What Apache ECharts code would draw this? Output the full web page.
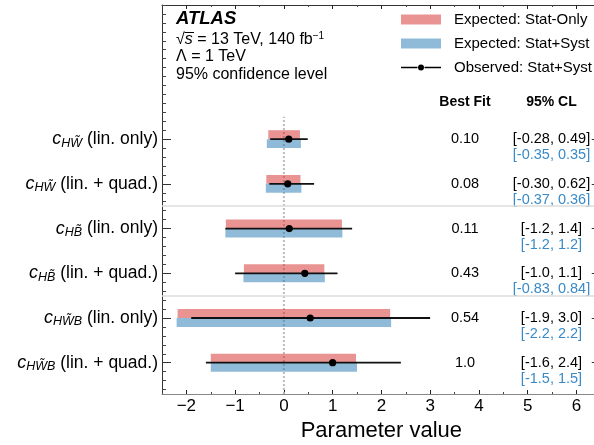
<!DOCTYPE html>
<html>
<head>
<meta charset="utf-8">
<script src="https://cdn.jsdelivr.net/npm/echarts@6/dist/echarts.min.js"></script>
<style>
  html, body { margin: 0; padding: 0; background: #fff; }
  #chart { width: 594px; height: 445px; }
</style>
</head>
<body>
<div id="chart"></div>
<script>
// Wilson coefficients, listed top to bottom
const coefficients = ['HW\u0303', 'HW\u0303', 'HB\u0303', 'HB\u0303', 'HW\u0303B', 'HW\u0303B'];
const fitTypes = ['lin. only', 'lin. + quad.', 'lin. only', 'lin. + quad.', 'lin. only', 'lin. + quad.'];

// Observed best fit and 95% CL (stat+syst)
const bestFit = [0.10, 0.08, 0.11, 0.43, 0.54, 1.0];
const obsLow  = [-0.28, -0.30, -1.2, -1.0, -1.9, -1.6];
const obsHigh = [0.49, 0.62, 1.4, 1.1, 3.0, 2.4];

// Expected 95% CL, stat+syst
const expSystLow  = [-0.35, -0.37, -1.2, -0.83, -2.2, -1.5];
const expSystHigh = [0.35, 0.36, 1.2, 0.84, 2.2, 1.5];

// Expected 95% CL, stat only
const expStatLow  = [-0.32, -0.36, -1.19, -0.82, -2.18, -1.5];
const expStatHigh = [0.33, 0.34, 1.19, 0.83, 2.18, 1.48];

// Decimal places used when printing each row
const bestDigits = [2, 2, 2, 2, 2, 1];
const obsDigits  = [2, 2, 1, 1, 1, 1];
const expDigits  = [2, 2, 1, 2, 1, 1];

// x-axis ticks
const xTickMin = -2, xTickMax = 6;

const FONT = '"Liberation Sans", Arial, Helvetica, sans-serif';
const RED = 'rgba(214,39,40,0.5)';
const BLUE = 'rgba(31,119,180,0.5)';
const BLUE_TEXT = '#3a8ac8';

// Frame geometry (pixels) and axis ranges
const W = 594, H = 445;
const frameLeft = 162, frameTop = 5, frameBottomPx = 394;
const xMin = -2.5, xMax = 6.5, yMin = -0.7, yMax = 8.0;
const pxPerX = 48.75;
const frameRightPx = frameLeft + (xMax - xMin) * pxPerX;
const pxPerY = (frameBottomPx - frameTop) / (yMax - yMin);
const pxX = v => frameLeft + (v - xMin) * pxPerX;
const pxY = v => frameTop + (yMax - v) * pxPerY;

const n = coefficients.length;
const yPos = i => n - 1 - i;   // row i drawn at y = n-1-i

const fmt = (v, d) => (v < 0 ? '-' : '') + Math.abs(v).toFixed(d);

const frameGrid = { left: frameLeft, top: frameTop, right: W - frameRightPx, bottom: H - frameBottomPx, outerBoundsMode: 'none', containLabel: false };
const minorYGrid = { left: frameLeft, top: pxY(yMax), right: W - frameRightPx, bottom: H - pxY(-0.6), outerBoundsMode: 'none', containLabel: false };
const majorYGrid = { left: frameLeft, top: pxY(n - 1), right: W - frameRightPx, bottom: H - pxY(0), outerBoundsMode: 'none', containLabel: false };
const majorXGrid = { left: pxX(xTickMin), top: frameTop, right: W - pxX(xTickMax), bottom: H - frameBottomPx, outerBoundsMode: 'none', containLabel: false };

const hidden = { show: false };
const noLine = { show: false, onZero: false };

const chart = echarts.init(document.getElementById('chart'), null, { renderer: 'canvas' });

const barData = (lo, hi) => lo.map((l, i) => [yPos(i), l, hi[i]]);

function barRenderer(top, bottom) {
  return function (params, api) {
    const y = api.value(0);
    const p0 = api.coord([api.value(1), y + top]);
    const p1 = api.coord([api.value(2), y + bottom]);
    return {
      type: 'rect',
      shape: { x: p0[0], y: p0[1], width: p1[0] - p0[0], height: p1[1] - p0[1] },
      style: { fill: api.visual('color') }
    };
  };
}

const option = {
  backgroundColor: '#fff',
  animation: false,
  textStyle: { fontFamily: FONT },
  grid: [frameGrid, minorYGrid, majorYGrid, majorXGrid],
  xAxis: [
    // frame: bottom and top lines with half-unit ticks
    { gridIndex: 0, type: 'value', min: xMin, max: xMax, interval: 0.5, position: 'bottom',
      axisLine: { show: true, onZero: false, lineStyle: { color: '#888', width: 1 } },
      axisTick: { show: true, inside: true, length: 2, lineStyle: { color: '#444' } },
      axisLabel: hidden, splitLine: hidden },
    { gridIndex: 0, type: 'value', min: xMin, max: xMax, interval: 0.5, position: 'top',
      axisLine: { show: true, onZero: false, lineStyle: { color: '#333', width: 1 } },
      axisTick: { show: true, inside: true, length: 2, lineStyle: { color: '#444' } },
      axisLabel: hidden, splitLine: hidden },
    { gridIndex: 1, type: 'value', min: xMin, max: xMax, show: false },
    { gridIndex: 2, type: 'value', min: xMin, max: xMax, show: false },
    // integer ticks and labels
    { gridIndex: 3, type: 'value', min: xTickMin, max: xTickMax, interval: 1, position: 'bottom',
      axisLine: noLine,
      axisTick: { show: true, inside: true, length: 4, lineStyle: { color: '#222' } },
      axisLabel: { show: true, margin: 4, fontSize: 17, color: '#000', fontFamily: FONT,
        formatter: v => (v < 0 ? '\u2212' + Math.abs(v) : String(v)) },
      splitLine: hidden,
      name: 'Parameter value', nameLocation: 'middle', nameGap: 22,
      nameTextStyle: { fontSize: 22, color: '#000', fontFamily: FONT } },
    { gridIndex: 3, type: 'value', min: xTickMin, max: xTickMax, interval: 1, position: 'top',
      axisLine: noLine,
      axisTick: { show: true, inside: true, length: 4, lineStyle: { color: '#222' } },
      axisLabel: hidden, splitLine: hidden }
  ],
  yAxis: [
    { gridIndex: 0, type: 'value', min: yMin, max: yMax, position: 'left',
      axisLine: { show: true, onZero: false, lineStyle: { color: '#333', width: 1 } },
      axisTick: hidden, axisLabel: hidden, splitLine: hidden },
    { gridIndex: 0, type: 'value', min: yMin, max: yMax, position: 'right',
      axisLine: { show: true, onZero: false, lineStyle: { color: '#333', width: 1 } },
      axisTick: hidden, axisLabel: hidden, splitLine: hidden },
    { gridIndex: 1, type: 'value', min: -0.6, max: yMax, interval: 0.2, position: 'left',
      axisLine: noLine, axisTick: { show: true, inside: true, length: 4, lineStyle: { color: '#444' } },
      axisLabel: hidden, splitLine: hidden },
    { gridIndex: 1, type: 'value', min: -0.6, max: yMax, interval: 0.2, position: 'right',
      axisLine: noLine, axisTick: { show: true, inside: true, length: 4, lineStyle: { color: '#444' } },
      axisLabel: hidden, splitLine: hidden },
    { gridIndex: 2, type: 'value', min: 0, max: n - 1, interval: 1, position: 'left',
      axisLine: noLine, axisTick: { show: true, inside: true, length: 9, lineStyle: { color: '#333' } },
      axisLabel: {
        show: true, margin: 4, color: '#000', fontSize: 17.5, fontFamily: FONT,
        formatter: v => {
          const i = n - 1 - v;
          return '{c|c}{s|' + coefficients[i] + '} (' + fitTypes[i] + ')';
        },
        rich: {
          c: { fontSize: 18, fontStyle: 'italic', fontFamily: FONT, color: '#000' },
          s: { fontSize: 12.5, fontStyle: 'italic', fontFamily: FONT, color: '#000', padding: [8, 0, 0, 0] }
        }
      },
      splitLine: hidden },
    { gridIndex: 2, type: 'value', min: 0, max: n - 1, interval: 1, position: 'right',
      axisLine: noLine, axisTick: { show: true, inside: true, length: 9, lineStyle: { color: '#333' } },
      axisLabel: hidden, splitLine: hidden },
    { gridIndex: 3, type: 'value', min: yMin, max: yMax, show: false }
  ],
  legend: {
    orient: 'vertical', left: 401, top: 12, padding: 0,
    itemWidth: 40, itemHeight: 10, itemGap: 9,
    textStyle: { fontSize: 15, color: '#000', fontFamily: FONT, padding: [0, 0, 0, 8] },
    data: [
      { name: 'Expected: Stat-Only', icon: 'rect' },
      { name: 'Expected: Stat+Syst', icon: 'rect' },
      { name: 'Observed: Stat+Syst',
        icon: 'path://M0,0L0,0.01M40,10L40,9.99M0,4.2H16.5V5.8H0ZM23.5,4.2H40V5.8H23.5ZM17,5A3,3,0,1,1,23,5A3,3,0,1,1,17,5Z' }
    ]
  },
  graphic: [
    { type: 'text', x: 176, y: 19, style: { text: 'ATLAS', font: 'italic bold 18.5px ' + FONT, fill: '#000', verticalAlign: 'middle' } },
    { type: 'text', x: 176, y: 40, style: {
        text: '{r|\u221A}{i|s} = 13 TeV, 140 fb{u|\u22121}', font: '16px ' + FONT, fill: '#000', verticalAlign: 'middle',
        rich: {
          r: { fontSize: 16, fontFamily: FONT },
          i: { fontSize: 16, fontStyle: 'italic', fontFamily: FONT },
          u: { fontSize: 10, fontFamily: FONT, padding: [0, 0, 8, 0] }
        } } },
    // bar of the square root over s
    { type: 'line', shape: { x1: 184.5, y1: 32.5, x2: 194, y2: 32.5 }, style: { stroke: '#000', lineWidth: 1 } },
    { type: 'text', x: 176, y: 57, style: { text: '\u039B = 1 TeV', font: '16px ' + FONT, fill: '#000', verticalAlign: 'middle' } },
    { type: 'text', x: 176, y: 75, style: { text: '95% confidence level', font: '16px ' + FONT, fill: '#000', verticalAlign: 'middle' } },
    { type: 'text', x: 465, y: 102, style: { text: 'Best Fit', font: 'bold 14px ' + FONT, fill: '#000', align: 'center', verticalAlign: 'middle' } },
    { type: 'text', x: 551.5, y: 102, style: { text: '95% CL', font: 'bold 14px ' + FONT, fill: '#000', align: 'center', verticalAlign: 'middle' } }
  ],
  series: [
    // dotted zero line and section separators
    { type: 'line', xAxisIndex: 0, yAxisIndex: 0, silent: true, symbol: 'none', z: 1,
      data: [[0, yMin], [0, 5.5]],
      lineStyle: { color: '#bbb', width: 2, type: [2, 2] },
      markLine: {
        silent: true, symbol: 'none', label: { show: false },
        lineStyle: { color: '#ddd', width: 1.5, type: 'solid' },
        data: [{ yAxis: 3.5 }, { yAxis: 1.5 }]
      } },
    { name: 'Expected: Stat-Only', type: 'custom', xAxisIndex: 0, yAxisIndex: 0, z: 2,
      itemStyle: { color: RED }, renderItem: barRenderer(0.2, 0),
      data: barData(expStatLow, expStatHigh) },
    { name: 'Expected: Stat+Syst', type: 'custom', xAxisIndex: 0, yAxisIndex: 0, z: 2,
      itemStyle: { color: BLUE }, renderItem: barRenderer(0, -0.2),
      data: barData(expSystLow, expSystHigh) },
    { name: 'Observed: Stat+Syst', type: 'custom', xAxisIndex: 0, yAxisIndex: 0, z: 3,
      itemStyle: { color: '#000' },
      renderItem: (params, api) => {
        const y = api.value(0);
        const a = api.coord([api.value(1), y]);
        const b = api.coord([api.value(2), y]);
        const c = api.coord([api.value(3), y]);
        return { type: 'group', children: [
          { type: 'line', shape: { x1: a[0], y1: a[1], x2: b[0], y2: b[1] }, style: { stroke: '#111', lineWidth: 1.8 } },
          { type: 'circle', shape: { cx: c[0], cy: c[1], r: 3.6 }, style: { fill: '#000' } }
        ] };
      },
      data: obsLow.map((l, i) => [yPos(i), l, obsHigh[i], bestFit[i]]) },
    // printed best fit and intervals
    { type: 'custom', xAxisIndex: 0, yAxisIndex: 0, z: 4, silent: true,
      renderItem: (params, api) => {
        const i = api.value(0);
        const row = api.coord([0, yPos(i)])[1];
        const base = { font: '14.5px ' + FONT, align: 'center', verticalAlign: 'middle' };
        return { type: 'group', children: [
          { type: 'text', style: Object.assign({ x: 465, y: row, text: fmt(bestFit[i], bestDigits[i]), fill: '#000' }, base) },
          { type: 'text', style: Object.assign({ x: 551.5, y: row,
              text: '[' + fmt(obsLow[i], obsDigits[i]) + ', ' + fmt(obsHigh[i], obsDigits[i]) + ']', fill: '#000' }, base) },
          { type: 'text', style: Object.assign({ x: 551.5, y: row + 16,
              text: '[' + fmt(expSystLow[i], expDigits[i]) + ', ' + fmt(expSystHigh[i], expDigits[i]) + ']', fill: BLUE_TEXT }, base) }
        ] };
      },
      data: coefficients.map((c, i) => [i]) }
  ]
};

chart.setOption(option);
</script>
</body>
</html>
